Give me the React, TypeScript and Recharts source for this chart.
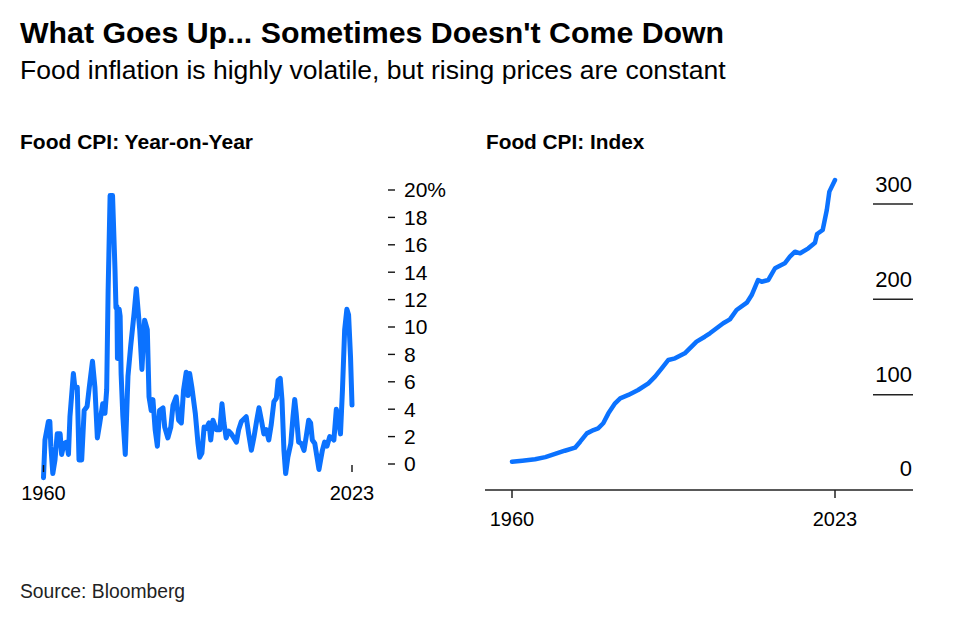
import React from 'react';
import { LineChart, Line, XAxis, YAxis } from 'recharts';

// ---- Data ----
const yoyYears = [
  1960.0, 1960.3, 1961.0, 1961.3, 1961.5, 1961.9, 1962.35, 1962.8, 1963.4, 1963.7,
  1964.2, 1964.7, 1965.1, 1965.4, 1966.1, 1966.4, 1966.9, 1967.25, 1967.8, 1968.3,
  1968.9, 1969.35, 1970.0, 1970.5, 1971.0, 1971.5, 1972.1, 1972.55, 1972.9, 1973.2,
  1973.6, 1974.1, 1974.6, 1974.8, 1975.0, 1975.1, 1975.3, 1975.45, 1975.65, 1975.85,
  1976.2, 1976.7, 1977.25, 1977.8, 1978.5, 1978.95, 1979.65, 1980.1, 1980.65, 1981.2,
  1981.55, 1982.0, 1982.35, 1982.8, 1983.25, 1983.7, 1984.4, 1984.75, 1985.4, 1986.0,
  1986.45, 1987.1, 1987.6, 1988.15, 1988.6, 1989.15, 1989.5, 1989.85, 1990.3, 1991.0,
  1991.55, 1991.9, 1992.35, 1992.8, 1993.25, 1993.8, 1994.15, 1994.6, 1995.3, 1996.0,
  1996.45, 1996.85, 1997.3, 1997.8, 1998.35, 1999.4, 1999.85, 2000.4, 2001.4, 2001.9,
  2002.45, 2003.0, 2003.55, 2004.0, 2004.5, 2005.0, 2005.5, 2006.0, 2006.5, 2007.05,
  2007.55, 2007.9, 2008.35, 2008.7, 2009.1, 2009.45, 2009.9, 2010.5, 2010.95, 2011.3,
  2011.6, 2012.1, 2012.65, 2013.2, 2013.65, 2014.15, 2014.55, 2014.9, 2015.4, 2015.85,
  2016.25, 2016.6, 2016.95, 2017.4, 2017.9, 2018.45, 2018.9, 2019.3, 2019.8, 2020.15,
  2020.65, 2021.05, 2021.5, 2021.95, 2022.3, 2022.7, 2023.0,
];
const yoyValues = [
  -1.0, 1.75, 3.1, 3.1, 1.3, -0.7, 0.3, 2.2, 2.2, 0.7,
  1.5, 1.6, 0.7, 3.45, 6.6, 5.6, 5.6, 0.3, 0.3, 3.9,
  4.2, 5.6, 7.5, 5.6, 1.9, 3.0, 4.4, 3.7, 5.4, 12.7,
  19.6, 19.6, 14.2, 11.4, 11.5, 7.7, 7.7, 11.3, 10.8, 6.6,
  3.5, 0.7, 6.4, 8.6, 11.0, 12.8, 9.8, 6.9, 10.5, 9.8,
  4.9, 3.9, 4.7, 2.5, 1.3, 3.9, 4.1, 2.7, 1.9, 2.7,
  4.3, 4.9, 3.2, 3.0, 5.4, 6.7, 5.0, 6.6, 5.6, 3.7,
  1.5, 0.5, 0.8, 2.7, 2.6, 3.0, 1.75, 3.2, 2.5, 2.5,
  4.4, 3.0, 1.9, 2.4, 2.2, 1.6, 2.5, 3.1, 3.45, 2.2,
  1.0, 2.0, 3.2, 4.1, 3.2, 2.2, 2.5, 1.75, 2.85, 4.55,
  4.8, 6.1, 6.25, 4.7, 1.0, -0.7, 0.5, 1.5, 3.45, 4.7,
  3.7, 1.6, 1.5, 1.0, 2.0, 3.2, 3.0, 1.75, 1.5, 0.5,
  -0.4, 0.3, 1.0, 1.6, 1.3, 2.0, 1.9, 1.75, 4.0, 3.45,
  2.2, 5.4, 9.8, 11.3, 10.9, 7.8, 4.3,
];
const yoyTickValues = [0, 2, 4, 6, 8, 10, 12, 14, 16, 18, 20];
const yearTicks = [1960, 2023];

const indexYears = [
  1960.0, 1962.0, 1964.5, 1966.5, 1968.4, 1970.3, 1972.3, 1973.3, 1974.6, 1975.9,
  1976.8, 1977.8, 1978.8, 1980.1, 1981.1, 1982.7, 1984.6, 1986.6, 1987.9, 1989.2,
  1990.5, 1991.8, 1993.7, 1996.0, 1997.6, 1998.6, 2001.2, 2002.5, 2003.8, 2005.8,
  2006.75, 2008.0, 2008.7, 2010.0, 2011.3, 2013.2, 2014.2, 2015.2, 2016.2, 2017.8,
  2019.1, 2019.5, 2020.6, 2021.4, 2021.9, 2023.0,
];
const indexValues = [
  29.7, 30.8, 32.2, 34.5, 37.8, 41.2, 44.4, 50.7, 59.4, 62.9,
  64.7, 70.0, 80.4, 90.9, 96.2, 99.7, 104.9, 111.9, 118.9, 127.6,
  136.4, 138.1, 143.4, 155.6, 160.8, 164.4, 174.9, 179.0, 188.8, 196.5,
  204.5, 220.3, 218.5, 220.3, 232.6, 237.8, 244.7, 250.0, 248.3, 253.5,
  259.4, 268.5, 272.7, 293.7, 313.0, 325.2,
];
const indexTickValues = [0, 100, 200, 300];

const yoyData = yoyYears.map((year, i) => ({ year, value: yoyValues[i] }));
const indexData = indexYears.map((year, i) => ({ year, value: indexValues[i] }));

const FONT = '"Liberation Sans", Arial, Helvetica, sans-serif';
const BLUE = '#0b72ff';
const INK = '#111';

function YoYXTick(props: any) {
  const { x, y, payload } = props;
  return (
    <g>
      <line x1={x} x2={x} y1={y - 19.5} y2={y - 12.5} stroke={INK} strokeWidth={1.4} />
      <text x={x} y={y + 15} textAnchor="middle" fontSize={20} fontFamily={FONT} fill="#000">
        {payload.value}
      </text>
    </g>
  );
}

function IndexYTick(props: any) {
  const { x, y, payload } = props;
  const v = payload.value;
  return (
    <g>
      {v > 0 && <line x1={x - 40} x2={x} y1={y} y2={y} stroke="#222" strokeWidth={1.5} />}
      <text x={x - 1} y={v > 0 ? y - 12.5 : y - 14} textAnchor="end" fontSize={22} fontFamily={FONT} fill="#000">
        {v}
      </text>
    </g>
  );
}

export default function App() {
  return (
    <div style={{ position: 'absolute', left: 0, top: 0, width: 955, height: 618, background: '#fff', overflow: 'hidden' }}>
      <svg width={955} height={618} style={{ position: 'absolute', left: 0, top: 0 }}>
        <text x={20} y={43} fontSize={30.3} fontWeight="bold" fontFamily={FONT} fill="#000">
          What Goes Up... Sometimes Doesn't Come Down
        </text>
        <text x={20} y={79} fontSize={26.5} fontFamily={FONT} fill="#000">
          Food inflation is highly volatile, but rising prices are constant
        </text>
        <text x={20} y={149} fontSize={21} fontWeight="bold" fontFamily={FONT} fill="#000">
          Food CPI: Year-on-Year
        </text>
        <text x={486} y={149} fontSize={20.8} fontWeight="bold" fontFamily={FONT} fill="#000">
          Food CPI: Index
        </text>
        <text x={20} y={598} fontSize={19.3} fontFamily={FONT} fill="#222">
          Source: Bloomberg
        </text>
      </svg>

      <div style={{ position: 'absolute', left: 0, top: 160, width: 470, height: 360 }}>
        <LineChart width={470} height={360} data={yoyData} margin={{ top: 23.15, right: 0, bottom: 5.45, left: 43.5 }}>
          <XAxis
            dataKey="year"
            type="number"
            domain={[1960, 2023]}
            ticks={yearTicks}
            interval={0}
            padding={{ left: 0, right: 36 }}
            axisLine={false}
            tickLine={false}
            tickSize={0}
            tickMargin={0}
            height={30}
            tick={<YoYXTick />}
          />
          <YAxis
            orientation="right"
            type="number"
            domain={[-1.5, 20.5]}
            ticks={yoyTickValues}
            interval={0}
            width={82}
            axisLine={false}
            tickLine={{ stroke: INK, strokeWidth: 1.4 }}
            tickSize={7}
            tickMargin={9}
            tick={{ fill: '#000', fontSize: 21, fontFamily: FONT }}
            tickFormatter={(v: number) => (v === 20 ? '20%' : String(v))}
          />
          <Line
            dataKey="value"
            type="linear"
            stroke={BLUE}
            strokeWidth={5}
            strokeLinejoin="round"
            strokeLinecap="round"
            dot={false}
            activeDot={false}
            isAnimationActive={false}
          />
        </LineChart>
      </div>

      <div style={{ position: 'absolute', left: 470, top: 160, width: 485, height: 400 }}>
        <LineChart width={485} height={400} data={indexData} margin={{ top: 10, right: 0, bottom: 10, left: 15 }}>
          <XAxis
            dataKey="year"
            type="number"
            domain={[1960, 2023]}
            ticks={yearTicks}
            interval={0}
            padding={{ left: 27, right: 78 }}
            axisLine={{ stroke: '#222', strokeWidth: 1.5 }}
            tickLine={{ stroke: '#222', strokeWidth: 1.5 }}
            tickSize={8}
            tickMargin={14}
            height={60}
            tick={{ fill: '#000', fontSize: 20, fontFamily: FONT }}
          />
          <YAxis
            orientation="right"
            type="number"
            domain={[0, 335.67]}
            ticks={indexTickValues}
            interval={0}
            width={42}
            axisLine={false}
            tickLine={false}
            tickSize={0}
            tickMargin={0}
            tick={<IndexYTick />}
          />
          <Line
            dataKey="value"
            type="linear"
            stroke={BLUE}
            strokeWidth={4.5}
            strokeLinejoin="round"
            strokeLinecap="round"
            dot={false}
            activeDot={false}
            isAnimationActive={false}
          />
        </LineChart>
      </div>
    </div>
  );
}
